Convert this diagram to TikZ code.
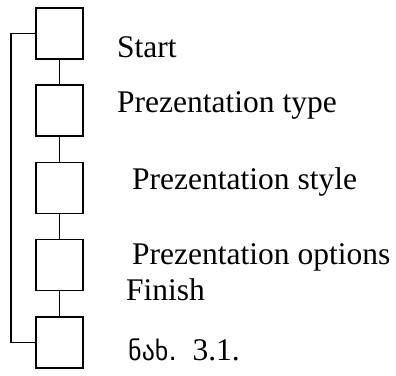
\documentclass[tikz,border=0pt]{standalone}
\usepackage{fontspec}
\setmainfont{Liberation Serif}
\newfontfamily\geofont{DejaVu Sans}

\tikzset{
  stepbox/.style={draw, line width=1.9pt, minimum width=47pt, minimum height=51pt, inner sep=0pt},
  lbl/.style={anchor=base west, inner sep=0pt, font=\fontsize{31.5}{36}\selectfont},
  link/.style={line width=1.9pt}
}

\begin{document}
\begin{tikzpicture}[x=1pt, y=-1pt]
    \useasboundingbox (0,0) rectangle (396,375);

    % Boxes
    \node[stepbox] (b1) at (59.5, 33.5) {};
    \node[stepbox] (b2) at (59.5, 110.5) {};
    \node[stepbox] (b3) at (59.5, 188) {};
    \node[stepbox] (b4) at (59.5, 265) {};
    \node[stepbox] (b5) at (59.5, 342.5) {};

    % Links
    \draw[link] (b1) -- (b2);
    \draw[link] (b2) -- (b3);
    \draw[link] (b3) -- (b4);
    \draw[link] (b4) -- (b5);
    \draw[link] (b1.west) -- ++(-24,0) |- (b5.west);

    % Labels
    \node[lbl] (start) at (117, 57) {Start};
    \node[lbl] (type) at (117, 112) {Prezentation type};
    \node[lbl] (style) at (132, 189) {Prezentation style};
    \node[lbl] (opts) at (132, 264) {Prezentation options};
    \node[lbl] (finish) at (126, 300) {Finish};
    \node[lbl] (cap) at (128, 360) {{\geofont\fontsize{26}{30}\selectfont ნახ.}\ \ 3.1.};
\end{tikzpicture}
\end{document}
